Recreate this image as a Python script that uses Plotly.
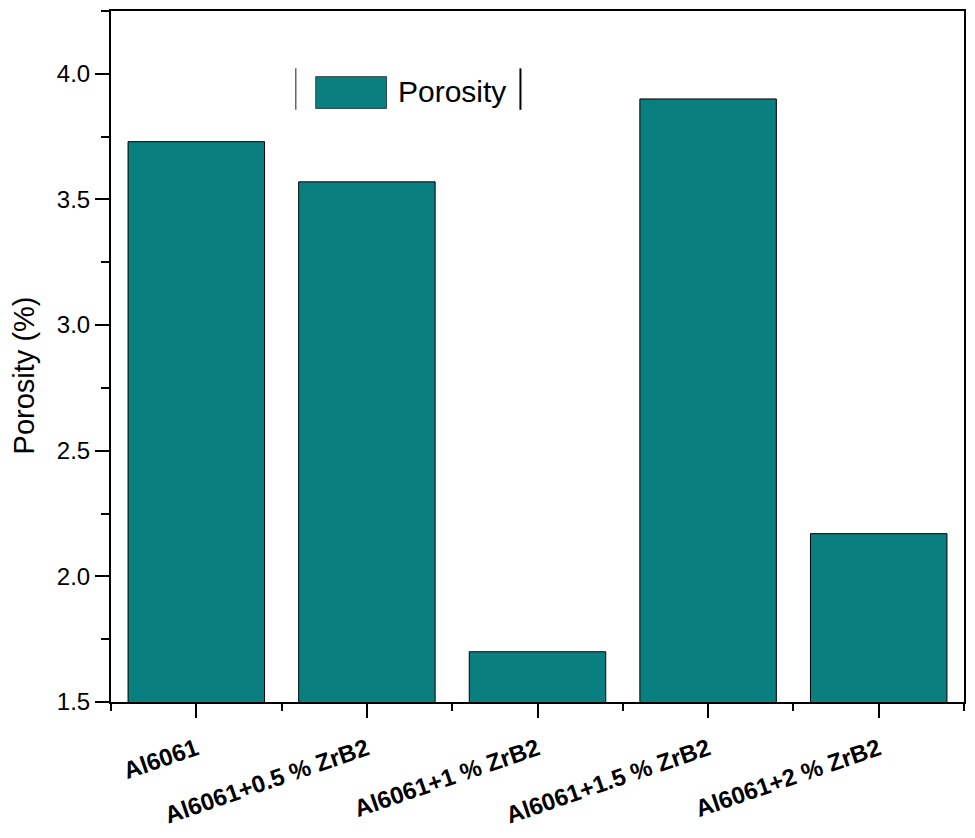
import plotly.graph_objects as go

# data
samples = ["Al6061", "Al6061+0.5 % ZrB2", "Al6061+1 % ZrB2",
           "Al6061+1.5 % ZrB2", "Al6061+2 % ZrB2"]
porosity = [3.73, 3.57, 1.70, 3.90, 2.17]
positions = list(range(len(samples)))

bar_color = "#0a7f7f"
font_family = "Liberation Sans, Arial, sans-serif"

fig = go.Figure()

fig.add_trace(go.Bar(
    x=positions, y=porosity, name="Porosity",
    width=0.8, marker=dict(color=bar_color, line=dict(color="black", width=1)),
    showlegend=False,
))

# legend drawn by hand (big swatch, side bars like the original)
fig.add_shape(type="rect", xref="x domain", yref="y domain",
              x0=0.240, x1=0.323, y0=0.859, y1=0.905,
              fillcolor=bar_color, line=dict(color="#2a4a4a", width=1))
fig.add_shape(type="line", xref="x domain", yref="y domain",
              x0=0.2166, x1=0.2166, y0=0.857, y1=0.917,
              line=dict(color="#666666", width=1.5))
fig.add_shape(type="line", xref="x domain", yref="y domain",
              x0=0.480, x1=0.480, y0=0.857, y1=0.917,
              line=dict(color="black", width=2))
fig.add_annotation(xref="x domain", yref="y domain", x=0.334, y=0.884,
                   text="Porosity", showarrow=False, xanchor="left", yanchor="middle",
                   font=dict(size=30, color="black", family=font_family))

# y axis title placed as annotation to match its offset
fig.add_annotation(xref="x domain", yref="y domain", x=-0.1025, y=0.472,
                   text="Porosity (%)", showarrow=False, textangle=-90,
                   xanchor="center", yanchor="middle", borderpad=0,
                   font=dict(size=29, color="black", family=font_family))

fig.update_layout(
    width=959, height=822,
    margin=dict(l=103, r=2, t=1, b=126),
    plot_bgcolor="white", paper_bgcolor="white",
    font=dict(family=font_family, color="black"),
)

fig.update_xaxes(
    range=[-0.5, 4.5],
    tickvals=positions, ticktext=samples, tickangle=-19,
    tickfont=dict(size=24, weight="bold"), ticklabelstandoff=8,
    showline=True, linecolor="black", linewidth=2, mirror=True,
    ticks="outside", ticklen=14, tickwidth=2, tickcolor="black",
    minor=dict(ticks="outside", ticklen=7, tickwidth=2, tickcolor="black",
               dtick=0.5, tick0=0.5),
    showgrid=False, zeroline=False,
)

fig.update_yaxes(
    range=[1.5, 4.25], dtick=0.5, tickformat=".1f",
    tickfont=dict(size=24),
    showline=True, linecolor="black", linewidth=2, mirror=True,
    ticks="outside", ticklen=14, tickwidth=2, tickcolor="black",
    minor=dict(ticks="outside", ticklen=8, tickwidth=2, tickcolor="black",
               dtick=0.25),
    showgrid=False, zeroline=False,
)

fig.write_html("out.html")
